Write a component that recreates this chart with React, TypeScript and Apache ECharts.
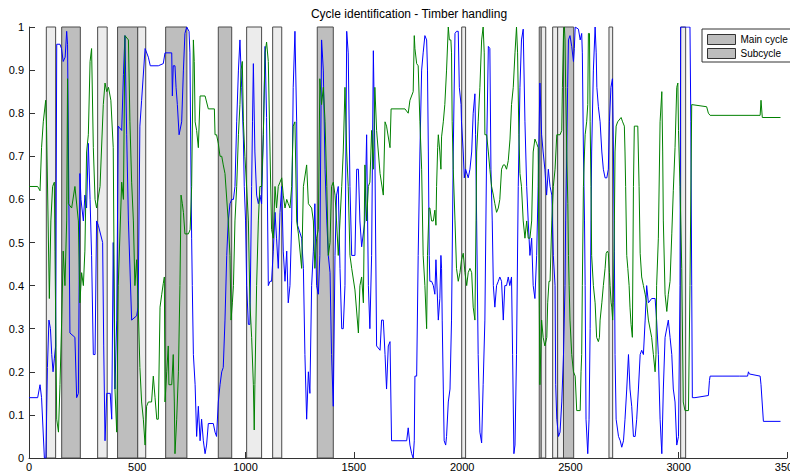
import React, { useEffect, useRef } from "react";
import * as echarts from "echarts";

const chartTitle = "Cycle identification - Timber handling";

const mainCycles: [number, number][] = [
  [151, 237], [409, 502], [631, 729], [874, 936], [1331, 1405], [2468, 2515],
];

const subCycles: [number, number][] = [
  [80, 123], [317, 361], [502, 539], [1005, 1074], [1125, 1167], [1998, 2016],
  [2356, 2365], [2365, 2386], [2418, 2441], [2441, 2468], [2678, 2695], [3009, 3032],
];

const blueSignal: [number, number][] = [
  [0,0.14],[40,0.14],[51,0.17],[58,0.14],[71,0.0],[78,0.0],[85,0.21],[92,0.32],[99,0.30],[105,0.24],[111,0.20],[117,0.23],[123,0.26],[128,0.96],[143,0.96],[150,0.95],[158,0.92],[167,0.93],[174,0.99],[178,0.96],[184,0.60],[189,0.29],[212,0.28],[220,0.14],[228,0.15],[235,0.66],[240,0.60],[251,0.55],[258,0.61],[266,0.58],[274,0.73],[282,0.60],[289,0.47],[297,0.24],[305,0.24],[312,0.55],[320,0.54],[340,0.50],[345,0.26],[351,0.04],[359,0.15],[375,0.15],[382,0.09],[389,0.5],[397,0.16],[405,0.32],[412,0.77],[428,0.76],[436,0.89],[443,0.98],[451,0.75],[459,0.55],[474,0.32],[497,0.33],[504,0.35],[512,0.77],[520,0.83],[536,0.95],[551,0.93],[560,0.91],[597,0.91],
  [620,0.915],[628,0.94],[659,0.94],[662,0.84],[666,0.91],[674,0.91],[679,0.86],[685,0.82],[693,0.75],[705,0.78],[713,0.90],[720,0.985],[728,1.0],[739,0.99],[743,0.94],[747,0.71],[751,0.51],[754,0.40],[759,0.24],[767,0.17],[774,0.05],[782,0.12],[790,0.04],[797,0.09],[805,0.04],[813,0.01],[820,0.03],[828,0.08],[851,0.08],[859,0.06],[866,0.05],[874,0.13],[882,0.17],[890,0.20],[897,0.21],[905,0.32],[913,0.47],[920,0.55],[928,0.59],[936,0.60],[944,0.60],[951,0.63],[959,0.78],[967,0.90],[974,0.97],[982,0.86],[990,0.74],[994,0.63],[1000,0.55],[1005,0.40],[1013,0.31],[1020,0.31],[1028,0.63],[1032,0.78],[1036,0.915],[1043,0.71],[1051,0.61],[1059,0.59],[1066,0.61],[1074,0.59],[1082,0.75],[1090,0.955],[1097,0.79],[1105,0.40],[1113,0.41],[1120,0.41],[1128,0.48],[1136,0.57],[1143,0.51],[1151,0.44],[1159,0.57],[1167,0.63],[1174,0.48],[1182,0.41],[1190,0.48],[1197,0.36],
  [1205,0.40],[1213,0.55],[1220,0.86],[1228,0.99],[1236,0.78],[1240,0.54],[1259,0.51],[1267,0.44],[1274,0.24],[1282,0.09],[1290,0.20],[1297,0.15],[1305,0.40],[1313,0.48],[1320,0.59],[1328,0.40],[1336,0.38],[1343,0.47],[1351,0.97],[1359,0.90],[1367,0.67],[1375,0.55],[1382,0.47],[1390,0.43],[1397,0.24],[1405,0.12],[1413,0.47],[1420,0.61],[1428,0.63],[1436,0.44],[1444,0.30],[1451,0.30],[1459,0.40],[1467,0.99],[1474,0.94],[1482,0.63],[1490,0.47],[1505,0.47],[1513,0.67],[1521,0.67],[1528,0.55],[1536,0.49],[1551,0.55],[1559,0.75],[1567,0.40],[1574,0.30],[1582,0.47],[1590,0.945],[1597,0.71],[1605,0.26],[1621,0.25],[1628,0.32],[1636,0.32],[1644,0.24],[1651,0.16],[1659,0.26],[1667,0.27],[1674,0.04],[1690,0.04],[1744,0.04],[1751,0.07],[1759,0.03],[1767,0.01],[1774,0.0],[1779,0.04],[1782,0.19],[1790,0.19],[1797,0.47],
  [1805,0.71],[1813,0.90],[1820,0.94],[1828,0.98],[1836,0.97],[1840,0.90],[1844,0.71],[1848,0.47],[1851,0.41],[1859,0.41],[1867,0.40],[1874,0.38],[1879,0.46],[1882,0.46],[1890,0.32],[1897,0.37],[1902,0.47],[1905,0.44],[1908,0.32],[1913,0.16],[1917,0.04],[1924,0.03],[1928,0.05],[1936,0.13],[1944,0.16],[1951,0.32],[1959,0.71],[1967,0.985],[1974,0.99],[1982,0.99],[1987,0.86],[1995,0.82],[1997,0.78],[2005,0.71],[2010,0.65],[2016,0.67],[2028,0.65],[2036,0.67],[2044,0.71],[2051,0.80],[2059,0.845],[2062,0.75],[2067,0.55],[2074,0.24],[2082,0.06],[2090,0.035],[2097,0.17],[2105,0.32],[2113,0.71],[2121,0.955],[2128,0.95],[2133,0.67],[2139,0.55],[2144,0.40],[2151,0.35],[2159,0.40],[2167,0.41],[2174,0.42],[2182,0.41],[2190,0.32],[2197,0.40],[2205,0.40],[2213,0.42],[2220,0.40],[2228,0.42],[2233,0.24],[2239,0.01],[2244,0.03],[2251,0.24],[2259,0.63],[2267,0.86],[2274,0.97],[2282,0.995],[2290,0.78],[2298,0.63],[2305,0.55],[2313,0.47],[2321,0.51],[2328,0.40],[2336,0.37],[2344,0.47],[2351,0.63],[2359,0.87],[2367,0.75],[2374,0.71],[2382,0.67],[2390,0.61],[2398,0.67],
  [2406,0.63],[2414,0.61],[2421,0.47],[2429,0.40],[2432,0.17],[2437,0.09],[2445,0.05],[2452,0.06],[2460,0.13],[2468,0.24],[2475,0.40],[2478,0.55],[2483,0.71],[2487,0.86],[2491,0.97],[2498,0.98],[2506,0.955],[2514,0.92],[2518,0.95],[2522,1.0],[2537,0.995],[2545,0.97],[2552,0.985],[2555,0.94],[2560,0.71],[2565,0.55],[2568,0.40],[2572,0.09],[2580,0.01],[2586,0.09],[2591,0.30],[2595,0.55],[2598,0.71],[2606,0.90],[2614,1.0],[2619,0.94],[2622,0.86],[2629,0.815],[2637,0.78],[2645,0.71],[2652,0.67],[2660,0.65],[2668,0.65],[2675,0.67],[2680,0.78],[2687,0.86],[2694,0.88],[2698,0.74],[2703,0.48],[2706,0.24],[2711,0.09],[2722,0.05],[2730,0.04],[2737,0.025],[2745,0.04],[2752,0.09],[2760,0.16],[2768,0.24],[2775,0.16],[2783,0.12],[2791,0.05],[2799,0.05],[2806,0.09],[2814,0.16],[2822,0.24],[2829,0.25],[2837,0.24],[2845,0.32],[2852,0.40],[2860,0.36],[2875,0.37],[2891,0.37],[2898,0.32],[2906,0.24],[2914,0.09],[2922,0.01],[2929,0.16],[2937,0.28],[2952,0.32],[2960,0.28],[2968,0.24],[2975,0.16],[2983,0.13],[2991,0.03],[2999,0.05],[3006,0.40],[3009,1.0],[3052,1.0],[3056,0.78],[3060,0.40],[3063,0.14],[3075,0.14],[3137,0.145],[3142,0.18],[3145,0.19],[3200,0.19],[3280,0.19],[3318,0.19],[3322,0.20],[3326,0.195],[3376,0.19],[3380,0.17],[3391,0.085],[3470,0.085],
];

const greenSignal: [number, number][] = [
  [0,0.63],[40,0.63],[51,0.62],[58,0.72],[66,0.78],[77,0.83],[81,0.77],[94,0.37],[101,0.55],[109,0.63],[117,0.64],[120,0.48],[128,0.09],[136,0.06],[143,0.17],[151,0.32],[158,0.48],[166,0.40],[174,0.55],[178,0.88],[182,0.59],[197,0.58],[212,0.63],[228,0.55],[235,0.36],[243,0.43],[251,0.40],[258,0.48],[266,0.71],[274,0.75],[282,0.92],[289,0.95],[297,0.72],[305,0.60],[312,0.58],[328,0.63],[343,0.82],[351,0.87],[359,0.85],[367,0.86],[378,0.83],[389,0.72],[397,0.16],[405,0.06],[412,0.40],[428,0.64],[436,0.60],[443,0.98],[459,0.97],[466,0.78],[474,0.64],[482,0.55],[489,0.40],[497,0.46],[504,0.36],[512,0.21],[520,0.13],[528,0.09],[536,0.03],[543,0.12],[551,0.13],[566,0.13],[574,0.19],[582,0.14],[590,0.09],[597,0.09],[605,0.35],[613,0.38],[620,0.405],[625,0.42],[628,0.13],[636,0.20],[643,0.26],[646,0.17],[659,0.17],[666,0.24],[671,0.13],[674,0.01],[682,0.09],[690,0.20],[697,0.40],[702,0.61],[708,0.59],[713,0.57],[720,0.52],[736,0.52],[744,0.53],[751,0.63],[759,0.97],[763,0.92],[767,0.78],[774,0.76],[782,0.72],[790,0.84],[813,0.84],[828,0.81],[856,0.81],[859,0.75],[866,0.75],[874,0.73],[882,0.70],[890,0.70],[897,0.68],[905,0.66],[920,0.55],[928,0.47],[933,0.32],[939,0.36],[944,0.40],[951,0.55],[959,0.63],[967,0.75],[974,0.82],[979,0.9],[985,0.92],[990,0.78],[997,0.70],[1005,0.63],[1013,0.55],[1020,0.36],[1028,0.28],[1036,0.17],[1040,0.065],[1043,0.17],[1051,0.40],[1059,0.55],[1066,0.63],[1074,0.63],[1082,0.75],[1090,0.94],[1097,0.965],[1105,0.92],[1113,0.71],[1120,0.53],[1128,0.51],[1136,0.63],[1143,0.58],[1151,0.63],[1159,0.64],[1167,0.65],[1174,0.61],[1182,0.58],[1190,0.60],[1197,0.59],
  [1205,0.58],[1213,0.63],[1220,0.77],[1228,0.78],[1236,0.55],[1244,0.52],[1259,0.44],[1267,0.63],[1282,0.68],[1290,0.59],[1305,0.58],[1313,0.55],[1320,0.44],[1328,0.51],[1336,0.53],[1343,0.88],[1351,0.82],[1359,0.86],[1367,0.78],[1375,0.63],[1382,0.47],[1390,0.50],[1397,0.63],[1405,0.64],[1413,0.61],[1420,0.55],[1428,0.47],[1436,0.55],[1444,0.63],[1451,0.71],[1459,0.86],[1467,0.71],[1474,0.63],[1482,0.47],[1490,0.44],[1505,0.39],[1521,0.29],[1528,0.40],[1536,0.42],[1544,0.36],[1551,0.68],[1559,0.55],[1567,0.63],[1574,0.64],[1582,0.76],[1590,0.67],[1597,0.86],[1605,0.76],[1621,0.66],[1636,0.61],[1644,0.78],[1651,0.77],[1667,0.72],[1672,0.81],[1690,0.81],[1736,0.81],[1751,0.80],[1759,0.83],[1774,0.85],[1779,0.98],[1782,0.95],[1790,0.915],[1797,0.91],
  [1805,0.78],[1813,0.67],[1820,0.47],[1828,0.40],[1836,0.30],[1840,0.47],[1847,0.58],[1851,0.58],[1859,0.55],[1867,0.55],[1874,0.575],[1879,0.54],[1882,0.63],[1887,0.72],[1890,0.75],[1897,0.71],[1902,0.67],[1905,0.745],[1913,0.78],[1920,0.82],[1928,0.90],[1936,1.0],[1941,0.97],[1948,0.97],[1951,0.94],[1954,0.78],[1959,0.67],[1967,0.55],[1974,0.44],[1982,0.41],[1990,0.43],[1997,0.46],[2005,0.475],[2013,0.43],[2021,0.40],[2028,0.43],[2036,0.44],[2044,0.43],[2051,0.35],[2059,0.32],[2064,0.55],[2067,0.71],[2074,0.78],[2082,0.86],[2090,0.97],[2097,1.0],[2102,0.94],[2105,0.75],[2113,0.75],[2121,0.71],[2128,0.67],[2136,0.63],[2144,0.61],[2151,0.59],[2159,0.57],[2167,0.58],[2174,0.60],[2182,0.67],[2190,0.68],[2197,0.68],[2205,0.67],[2213,0.69],[2221,0.74],[2228,0.82],[2236,0.86],[2244,0.94],[2251,1.0],[2256,0.94],[2262,0.75],[2267,0.66],[2274,0.63],[2282,0.55],[2290,0.51],[2298,0.55],[2305,0.51],[2313,0.51],[2321,0.55],[2328,0.71],[2336,0.74],[2344,0.73],[2351,0.72],[2359,0.17],[2367,0.32],[2374,0.28],[2382,0.26],[2391,0.28],[2395,0.36],[2401,0.41],
  [2406,0.41],[2414,0.55],[2421,0.63],[2429,0.67],[2437,0.75],[2452,0.75],[2460,0.76],[2463,0.86],[2468,0.985],[2472,1.0],[2475,0.97],[2478,0.86],[2483,0.71],[2488,0.59],[2491,0.47],[2494,0.40],[2498,0.32],[2506,0.24],[2514,0.20],[2522,0.19],[2529,0.11],[2545,0.11],[2549,0.20],[2552,0.24],[2555,0.40],[2560,0.63],[2565,0.71],[2568,0.75],[2575,0.78],[2580,0.82],[2583,0.985],[2588,0.985],[2591,0.78],[2595,0.63],[2598,0.47],[2606,0.40],[2614,0.36],[2621,0.28],[2629,0.27],[2634,0.28],[2637,0.32],[2645,0.36],[2652,0.40],[2660,0.44],[2665,0.475],[2671,0.48],[2675,0.475],[2680,0.43],[2683,0.40],[2688,0.36],[2691,0.35],[2695,0.32],[2698,0.36],[2703,0.55],[2706,0.71],[2711,0.77],[2718,0.78],[2734,0.79],[2741,0.78],[2749,0.77],[2752,0.71],[2755,0.63],[2760,0.47],[2765,0.44],[2771,0.40],[2775,0.35],[2780,0.31],[2786,0.28],[2791,0.63],[2795,0.77],[2802,0.77],[2811,0.77],[2817,0.63],[2822,0.475],[2829,0.42],[2837,0.40],[2845,0.38],[2852,0.36],[2860,0.32],[2875,0.28],[2883,0.24],[2891,0.20],[2895,0.24],[2898,0.40],[2906,0.51],[2914,0.78],[2922,0.85],[2926,0.71],[2929,0.55],[2937,0.38],[2945,0.34],[2952,0.38],[2960,0.41],[2968,0.52],[2975,0.62],[2983,0.72],[2991,0.86],[2996,0.87],[2999,0.76],[3006,0.63],[3014,0.44],[3021,0.13],[3029,0.11],[3045,0.11],[3052,0.40],[3060,0.82],[3129,0.815],[3137,0.80],[3145,0.795],[3376,0.795],[3380,0.83],[3386,0.79],[3470,0.79],
];

const FONT = "'Liberation Sans', Arial, Helvetica, sans-serif";

export default function App() {
  const ref = useRef<HTMLDivElement>(null);

  useEffect(() => {
    if (!ref.current) return;
    const chart = echarts.init(ref.current, null, { renderer: "svg" });

    const bandRenderer = (fill: string) => (params: any, api: any) => {
      const s = api.value(0);
      const e = api.value(1);
      const p0 = api.coord([s, 1]);
      const p1 = api.coord([e, 0]);
      return {
        type: "rect",
        shape: { x: p0[0], y: p0[1], width: p1[0] - p0[0], height: p1[1] - p0[1] },
        style: { fill, stroke: "#4a4a4a", lineWidth: 1 },
      };
    };

    chart.setOption({
      animation: false,
      backgroundColor: "#ffffff",
      title: {
        text: chartTitle,
        left: 404,
        top: 3,
        textAlign: "center",
        textStyle: { fontFamily: FONT, fontSize: 12, fontWeight: "normal", color: "#000" },
      },
      legend: {
        data: [
          { name: "Main cycle", icon: "rect", itemStyle: { color: "#bdbdbd", borderColor: "#333", borderWidth: 1 } },
          { name: "Subcycle", icon: "rect", itemStyle: { color: "#bdbdbd", borderColor: "#333", borderWidth: 1 } },
        ],
        orient: "vertical",
        left: 702,
        top: 29,
        itemWidth: 28,
        itemHeight: 10,
        itemGap: 3,
        padding: [5, 3, 3, 5],
        borderColor: "#333",
        borderWidth: 1,
        backgroundColor: "#fff",
        selectedMode: false,
        textStyle: { fontFamily: FONT, fontSize: 10, color: "#000" },
      },
      grid: { left: 29, right: 3, top: 27, bottom: 15, containLabel: false, outerBoundsMode: "none" },
      xAxis: {
        type: "value",
        min: 0,
        max: 3500,
        interval: 500,
        axisLine: { show: true, onZero: false, lineStyle: { color: "#333", width: 1 } },
        axisTick: { show: true, inside: true, length: 6, lineStyle: { color: "#333" } },
        axisLabel: {
          fontFamily: FONT, fontSize: 11, color: "#000", margin: 3,
          formatter: (v: number) => String(v),
        },
        splitLine: { show: false },
      },
      yAxis: {
        type: "value",
        min: 0,
        max: 1,
        interval: 0.1,
        axisLine: { show: true, onZero: false, lineStyle: { color: "#333", width: 1 } },
        axisTick: { show: true, inside: true, length: 6, lineStyle: { color: "#333" } },
        axisLabel: {
          fontFamily: FONT, fontSize: 11, color: "#000", margin: 5,
          formatter: (v: number) => String(Math.round(v * 10) / 10),
        },
        splitLine: { show: false },
      },
      series: [
        {
          name: "Main cycle",
          type: "custom",
          renderItem: bandRenderer("#bebebe"),
          data: mainCycles.map(([s, e]) => [s, e, 0, 1]),
          encode: { x: [0, 1], y: [2, 3] },
          itemStyle: { color: "#bdbdbd" },
          z: 1,
          silent: true,
        },
        {
          name: "Subcycle",
          type: "custom",
          renderItem: bandRenderer("#ececec"),
          data: subCycles.map(([s, e]) => [s, e, 0, 1]),
          encode: { x: [0, 1], y: [2, 3] },
          itemStyle: { color: "#bdbdbd" },
          z: 1,
          silent: true,
        },
        {
          name: "Signal 1",
          type: "line",
          data: blueSignal,
          showSymbol: false,
          symbol: "none",
          lineStyle: { color: "#0000ff", width: 1 },
          itemStyle: { color: "#0000ff" },
          z: 3,
          silent: true,
        },
        {
          name: "Signal 2",
          type: "line",
          data: greenSignal,
          showSymbol: false,
          symbol: "none",
          lineStyle: { color: "#008000", width: 1 },
          itemStyle: { color: "#008000" },
          z: 4,
          silent: true,
        },
      ],
    });

    return () => chart.dispose();
  }, []);

  return (
    <div
      ref={ref}
      style={{ position: "fixed", left: 0, top: 0, width: 790, height: 473, background: "#fff" }}
    />
  );
}
